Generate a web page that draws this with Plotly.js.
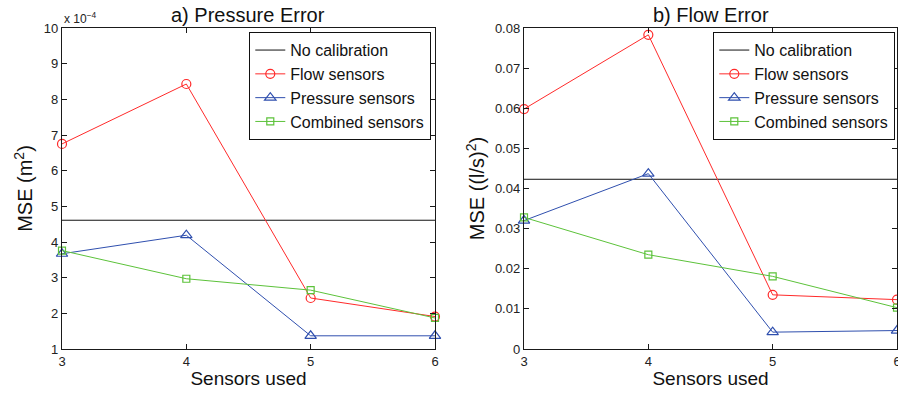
<!DOCTYPE html>
<html>
<head>
<meta charset="utf-8">
<script src="https://cdn.plot.ly/plotly-3.0.1.min.js"></script>
<style>html,body{margin:0;padding:0;background:#fff;}#chart{width:898px;height:393px;}</style>
</head>
<body>
<div id="chart"></div>
<script>
// Sensors used (x axis)
const sensors = [3, 4, 5, 6];

// a) Pressure Error, MSE in units of 1e-4 m^2
const pNoCal = 4.61;
const pFlow = [6.75, 8.43, 2.43, 1.91];
const pPressure = [3.67, 4.19, 1.37, 1.37];
const pCombined = [3.76, 2.97, 2.65, 1.87];

// b) Flow Error, MSE in (l/s)^2
const fNoCal = 0.0423;
const fFlow = [0.0598, 0.0783, 0.0135, 0.0123];
const fPressure = [0.0320, 0.0437, 0.0042, 0.0046];
const fCombined = [0.0328, 0.0235, 0.0181, 0.0103];

const seriesNames = ['No calibration', 'Flow sensors', 'Pressure sensors', 'Combined sensors'];
const titles = ['a) Pressure Error', 'b) Flow Error'];

const RED = '#ff2a2a', BLUE = '#2f4fae', GREEN = '#5cc23a', BLACK = '#111111';

function makeTraces(noCal, flow, pres, comb, xa, ya, leg) {
  return [
    {x: sensors, y: sensors.map(() => noCal), name: seriesNames[0], mode: 'lines',
     line: {color: BLACK, width: 1}, xaxis: xa, yaxis: ya, legend: leg},
    {x: sensors, y: flow, name: seriesNames[1], mode: 'lines+markers',
     line: {color: RED, width: 1}, marker: {symbol: 'circle-open', size: 9, color: RED, line: {width: 1.2}},
     xaxis: xa, yaxis: ya, legend: leg, cliponaxis: false},
    {x: sensors, y: pres, name: seriesNames[2], mode: 'lines+markers',
     line: {color: BLUE, width: 1}, marker: {symbol: 'triangle-up-open', size: 10, color: BLUE, line: {width: 1.2}},
     xaxis: xa, yaxis: ya, legend: leg, cliponaxis: false},
    {x: sensors, y: comb, name: seriesNames[3], mode: 'lines+markers',
     line: {color: GREEN, width: 1}, marker: {symbol: 'square-open', size: 7, color: GREEN, line: {width: 1.2}},
     xaxis: xa, yaxis: ya, legend: leg, cliponaxis: false}
  ];
}

const data = [].concat(
  makeTraces(pNoCal, pFlow, pPressure, pCombined, 'x', 'y', 'legend'),
  makeTraces(fNoCal, fFlow, fPressure, fCombined, 'x2', 'y2', 'legend2')
);

const FONT = 'Liberation Sans, Arial, Helvetica, sans-serif';
const axisCommon = {
  showline: true, linecolor: '#1a1a1a', linewidth: 1.2, mirror: 'ticks',
  ticks: 'inside', ticklen: 5, tickwidth: 1, tickcolor: '#1a1a1a',
  showgrid: false, zeroline: false, ticklabeloverflow: 'allow',
  tickfont: {family: FONT, size: 13, color: '#222'}
};
const legendCommon = {
  bgcolor: '#ffffff', bordercolor: '#111', borderwidth: 1.3,
  font: {family: FONT, size: 16, color: '#111'},
  xanchor: 'right', yanchor: 'top', y: 0.988, tracegroupgap: 0
};

const layout = {
  width: 898, height: 393,
  margin: {l: 62, r: 1, t: 28, b: 44},
  paper_bgcolor: '#fff', plot_bgcolor: '#fff',
  font: {family: FONT, color: '#111'},
  xaxis: Object.assign({}, axisCommon, {domain: [0, 0.4467], range: [3, 6], dtick: 1, anchor: 'y',
    title: {text: 'Sensors used', font: {family: FONT, size: 19, color: '#111'}, standoff: 4}}),
  yaxis: Object.assign({}, axisCommon, {range: [1, 10], dtick: 1, anchor: 'x',
    title: {text: 'MSE (m<sup>2</sup>)', font: {family: FONT, size: 20, color: '#111'}, standoff: 5}}),
  xaxis2: Object.assign({}, axisCommon, {domain: [0.5533, 1], range: [3, 6], dtick: 1, anchor: 'y2',
    title: {text: 'Sensors used', font: {family: FONT, size: 19, color: '#111'}, standoff: 4}}),
  yaxis2: Object.assign({}, axisCommon, {range: [0, 0.08], dtick: 0.01, anchor: 'x2',
    title: {text: 'MSE ((l/s)<sup>2</sup>)', font: {family: FONT, size: 20, color: '#111'}, standoff: 4}}),
  legend: Object.assign({}, legendCommon, {x: 0.4419}),
  legend2: Object.assign({}, legendCommon, {x: 0.9976}),
  showlegend: true,
  annotations: [
    {text: titles[0], xref: 'paper', yref: 'paper', x: 0.4467 / 2, y: 1, xanchor: 'center', yanchor: 'bottom',
     yshift: 0, showarrow: false, font: {family: FONT, size: 20, color: '#111'}},
    {text: titles[1], xref: 'paper', yref: 'paper', x: (0.5533 + 1) / 2, y: 1, xanchor: 'center', yanchor: 'bottom',
     yshift: 0, showarrow: false, font: {family: FONT, size: 20, color: '#111'}},
    {text: 'x 10<sup>−4</sup>', xref: 'paper', yref: 'paper', x: 0, y: 1, xanchor: 'left', yanchor: 'bottom',
     yshift: 0, showarrow: false, font: {family: FONT, size: 12, color: '#222'}}
  ]
};

Plotly.newPlot('chart', data, layout, {displayModeBar: false, staticPlot: true});
</script>
</body>
</html>
